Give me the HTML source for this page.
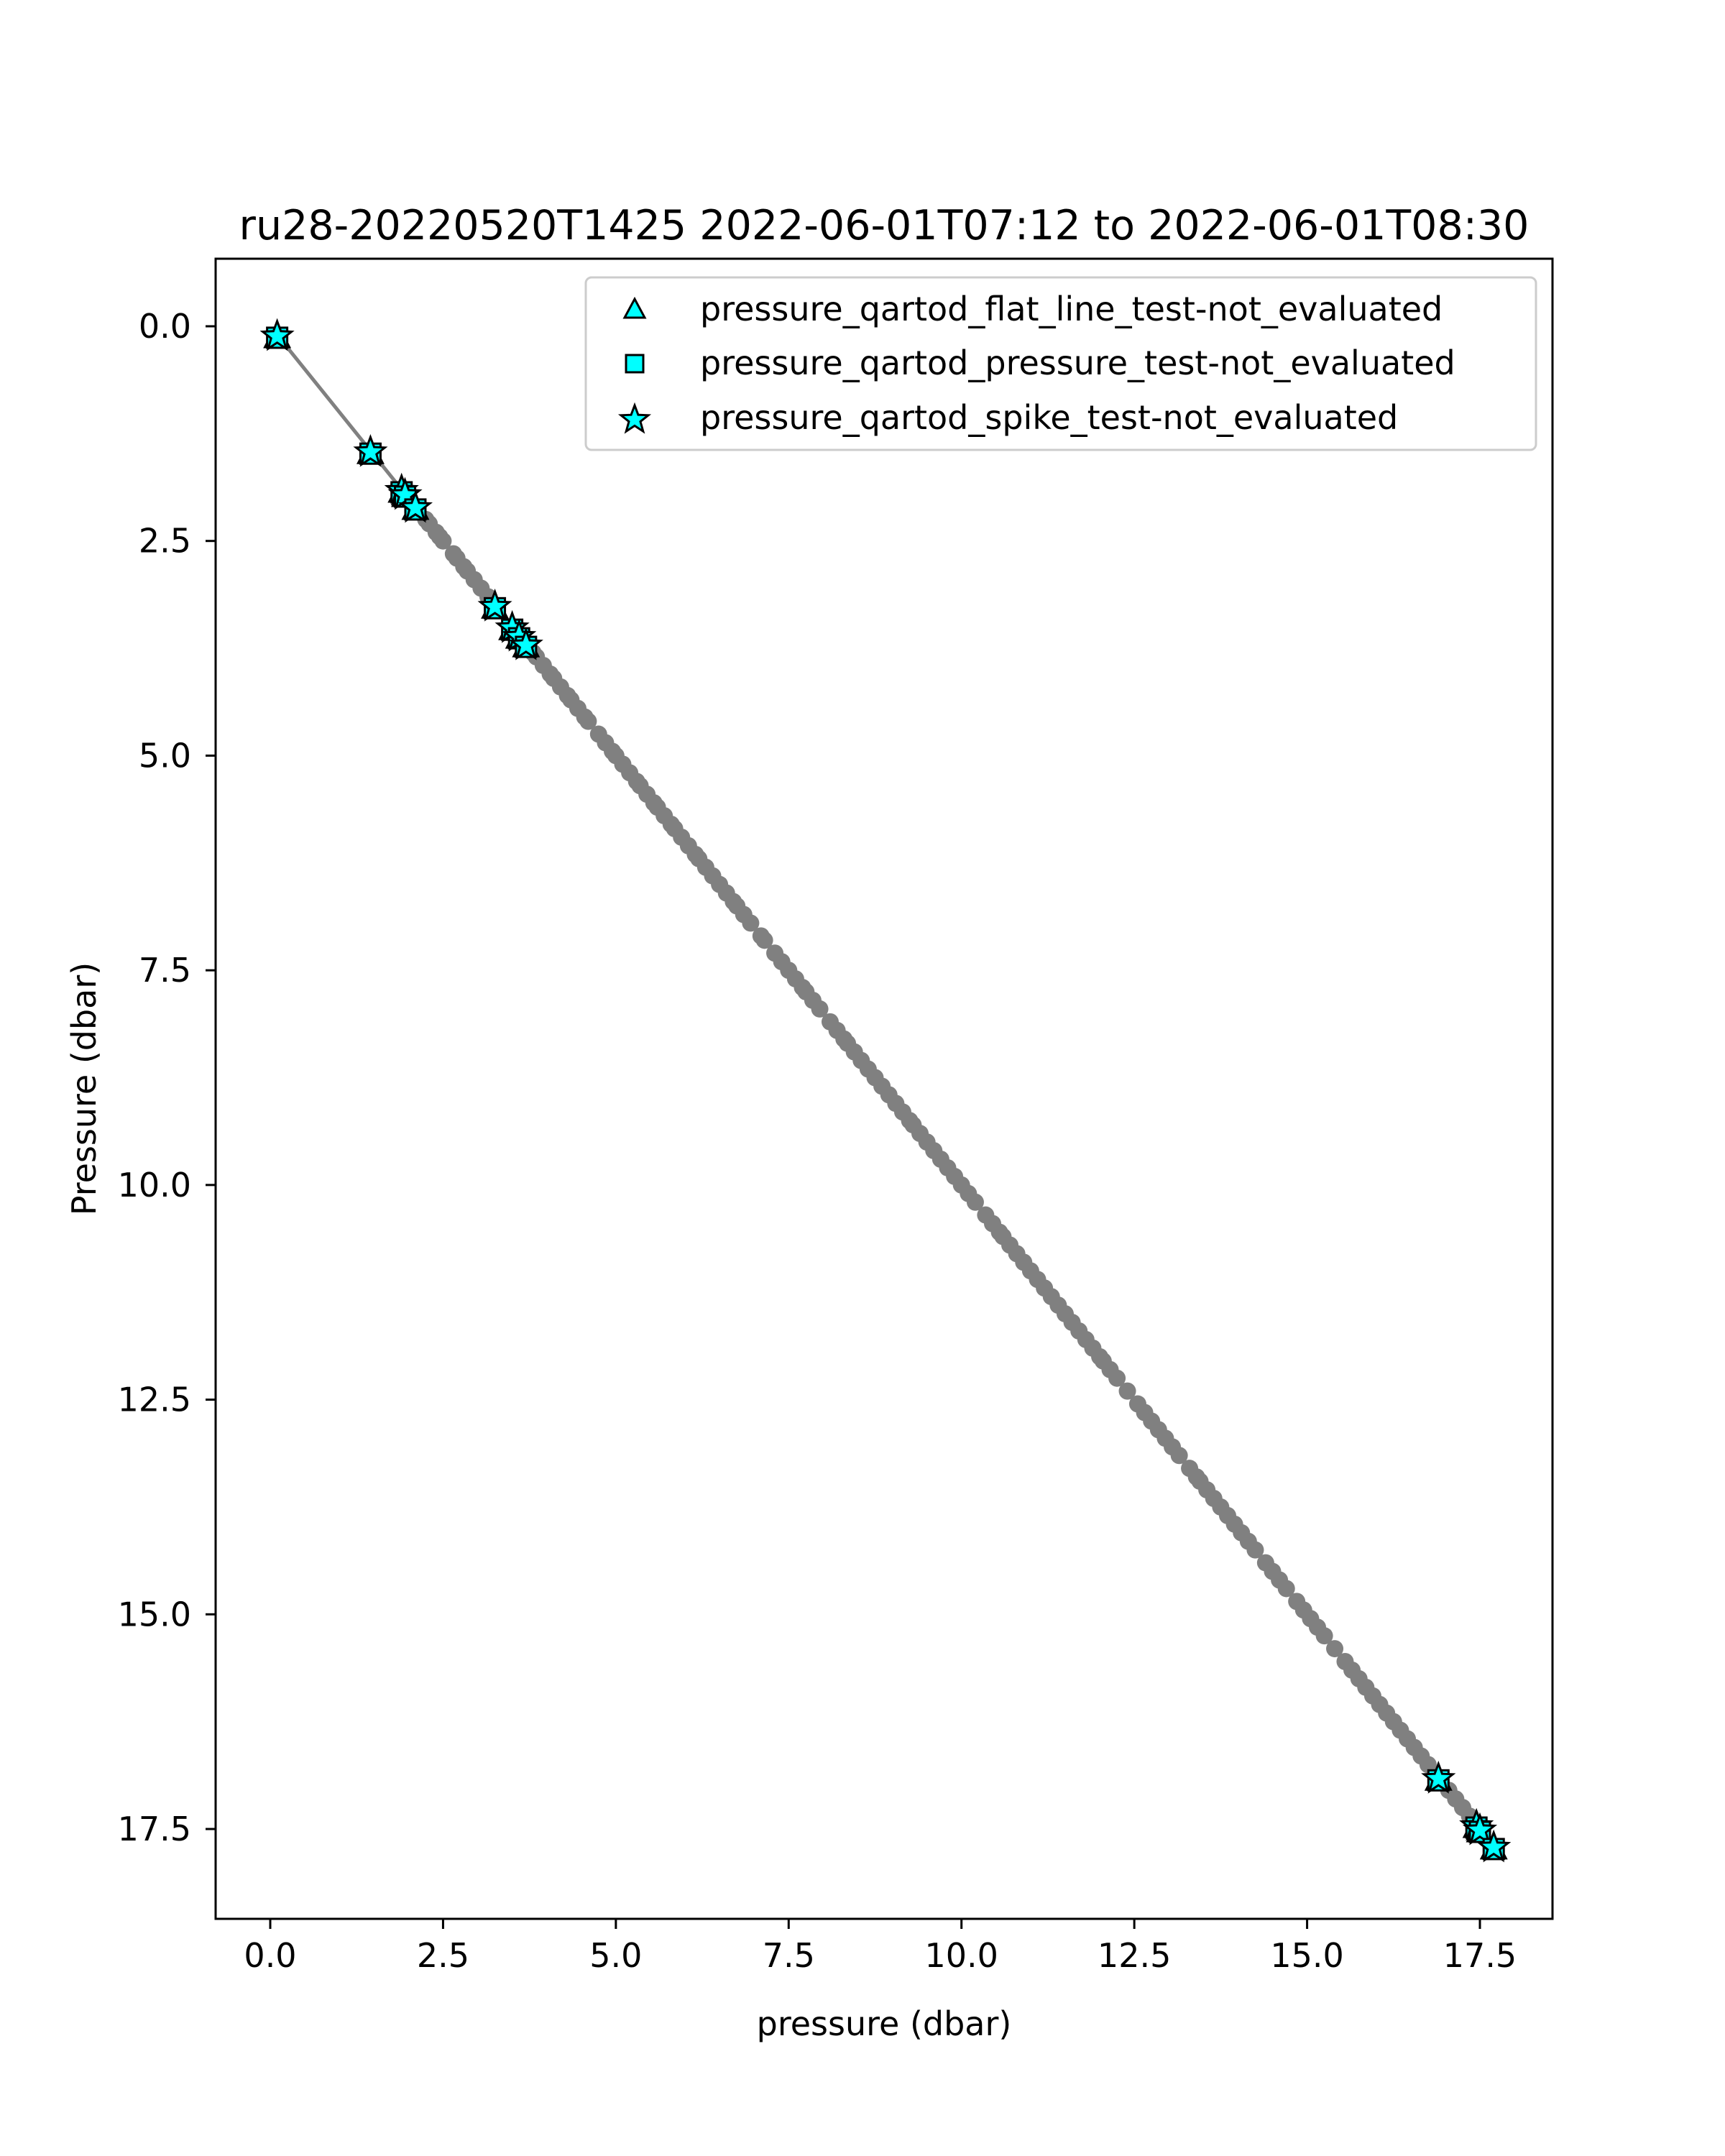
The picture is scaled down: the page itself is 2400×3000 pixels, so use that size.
<!DOCTYPE html>
<html><head><meta charset="utf-8"><style>
html,body{margin:0;padding:0;background:#fff;}
svg{display:block;font-family:"DejaVu Sans","Liberation Sans",sans-serif;}
</style></head><body>
<svg id="chart" width="2400" height="3000" viewBox="0 0 2400 3000" xmlns="http://www.w3.org/2000/svg">
<rect width="2400" height="3000" fill="#fff"/>
<text x="1230" y="333" font-size="57" text-anchor="middle">ru28-20220520T1425 2022-06-01T07:12 to 2022-06-01T08:30</text>
<g id="plot"></g>
<rect x="300" y="360" width="1860" height="2310" fill="none" stroke="#000" stroke-width="3"/>
<g id="xt"></g>
<g id="yt"></g>
<text x="1230" y="2832" font-size="46" text-anchor="middle">pressure (dbar)</text>
<text x="0" y="0" font-size="46" text-anchor="middle" transform="translate(133,1515) rotate(-90)">Pressure (dbar)</text>
<g>
<rect x="815" y="386" width="1322" height="240" rx="8" fill="#fff" fill-opacity="0.8" stroke="#ccc" stroke-width="3"/>
<polygon points="883,416 897,442 869,442" fill="#00ffff" stroke="#000" stroke-width="3"/>
<text x="974" y="446" font-size="46">pressure_qartod_flat_line_test-not_evaluated</text>
<rect x="871" y="494" width="24" height="24" fill="#00ffff" stroke="#000" stroke-width="3"/>
<text x="974" y="521" font-size="46">pressure_qartod_pressure_test-not_evaluated</text>
<polygon id="lstar" fill="#00ffff" stroke="#000" stroke-width="3"/>
<text x="974" y="597" font-size="46">pressure_qartod_spike_test-not_evaluated</text>
</g>
</svg>
<script>
const xTicks = [0, 2.5, 5, 7.5, 10, 12.5, 15, 17.5];
const yTicks = [0, 2.5, 5, 7.5, 10, 12.5, 15, 17.5];
const tickLabels = ["0.0","2.5","5.0","7.5","10.0","12.5","15.0","17.5"];
const profilePressure = [0.1,1.45,1.9,1.95,2.1,2.25,2.3,2.4,2.45,2.5,2.65,2.7,2.8,2.85,2.95,3.05,3.15,3.25,3.5,3.6,3.7,3.8,3.85,3.95,4.05,4.1,4.2,4.3,4.35,4.45,4.55,4.6,4.75,4.85,4.95,5.0,5.1,5.2,5.3,5.35,5.45,5.55,5.6,5.7,5.8,5.85,5.95,6.05,6.15,6.2,6.3,6.4,6.5,6.6,6.7,6.75,6.85,6.95,7.1,7.15,7.3,7.4,7.5,7.6,7.7,7.75,7.85,7.95,8.1,8.2,8.3,8.35,8.45,8.55,8.65,8.75,8.85,8.95,9.05,9.15,9.25,9.3,9.4,9.5,9.6,9.7,9.8,9.9,10.0,10.1,10.2,10.35,10.45,10.55,10.6,10.7,10.8,10.9,11.0,11.1,11.2,11.3,11.4,11.5,11.6,11.7,11.8,11.9,12.0,12.05,12.15,12.25,12.4,12.55,12.65,12.75,12.85,12.95,13.05,13.15,13.3,13.4,13.45,13.55,13.65,13.75,13.85,13.95,14.05,14.15,14.25,14.4,14.5,14.6,14.7,14.85,14.95,15.05,15.15,15.25,15.4,15.55,15.65,15.75,15.85,15.95,16.05,16.15,16.25,16.35,16.45,16.55,16.65,16.75,16.9,17.05,17.15,17.25,17.35,17.45,17.5,17.7];
const flaggedPressure = [0.1,1.45,1.9,1.95,2.1,3.25,3.5,3.6,3.7,16.9,17.45,17.5,17.7];

const NS = "http://www.w3.org/2000/svg";
const X0 = 376, XS = (2059 - 376) / 17.5;
const Y0 = 454, YS = (2545 - 454) / 17.5;
const sx = v => X0 + v * XS;
const sy = v => Y0 + v * YS;
function mk(tag, attrs, parent) {
  const e = document.createElementNS(NS, tag);
  for (const k in attrs) e.setAttribute(k, attrs[k]);
  parent.appendChild(e);
  return e;
}
function starPts(cx, cy, R) {
  const r = R * 0.42, p = [];
  for (let i = 0; i < 10; i++) {
    const a = -Math.PI / 2 + i * Math.PI / 5, rr = i % 2 ? r : R;
    p.push((cx + rr * Math.cos(a)).toFixed(1) + "," + (cy + rr * Math.sin(a)).toFixed(1));
  }
  return p.join(" ");
}
document.getElementById("lstar").setAttribute("points", starPts(883, 584, 20));

const xt = document.getElementById("xt"), yt = document.getElementById("yt");
xTicks.forEach((v, i) => {
  const t = mk("line", {x1: sx(v), x2: sx(v), y1: 2670, y2: 2684, stroke: "#000", "stroke-width": 3}, xt);
  
  
  const l = mk("text", {x: sx(v), y: 2737, "font-size": 46, "text-anchor": "middle"}, xt);
  l.textContent = tickLabels[i];
  
  
});
yTicks.forEach((v, i) => {
  const t = mk("line", {x1: 286, x2: 300, y1: sy(v), y2: sy(v), stroke: "#000", "stroke-width": 3}, yt);
  
  
  const l = mk("text", {x: 266, y: sy(v) + 16, "font-size": 46, "text-anchor": "end"}, yt);
  l.textContent = tickLabels[i];
  
  
});

const plot = document.getElementById("plot");
const line = mk("polyline", {points: profilePressure.map(v => sx(v) + "," + sy(v)).join(" "), fill: "none", stroke: "#808080", "stroke-width": 5}, plot);


profilePressure.forEach(v => {
  if (flaggedPressure.includes(v)) return;
  const c = mk("circle", {cx: sx(v), cy: sy(v), r: 12, fill: "#808080"}, plot);
  
  
});
flaggedPressure.forEach(v => {
  const x = sx(v), y = sy(v) + 4;
  const tri = mk("polygon", {points: `${x},${y-20} ${x+17},${y+13} ${x-17},${y+13}`, fill: "#00ffff", stroke: "#000", "stroke-width": 3}, plot);
  
  
  const sq = mk("rect", {x: x - 14, y: y - 14, width: 28, height: 28, fill: "#00ffff", stroke: "#000", "stroke-width": 3}, plot);
  
  
  const st = mk("polygon", {points: starPts(x, y - 2, 21), fill: "#00ffff", stroke: "#000", "stroke-width": 3}, plot);
  
  
});
</script>
</body></html>
